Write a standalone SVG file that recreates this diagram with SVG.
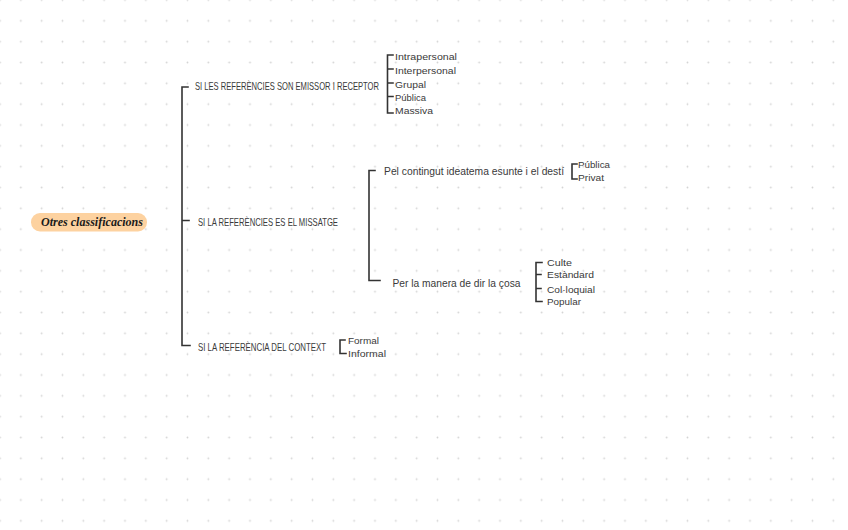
<svg xmlns="http://www.w3.org/2000/svg" width="848" height="530" viewBox="0 0 848 530">
<defs>
<pattern id="dots" patternUnits="userSpaceOnUse" x="-10.4167" y="-10.4167" width="20.8333" height="20.8333">
<circle cx="10.4167" cy="10.4167" r="0.9" fill="#d4d4d4"/>
</pattern>
</defs>
<style>
.t{font-family:"Liberation Sans",Arial,sans-serif;fill:#3a3a3a;font-size:9px;}
.m{font-family:"Liberation Sans",Arial,sans-serif;fill:#3a3a3a;font-size:10px;}
.u{font-family:"Liberation Sans",Arial,sans-serif;fill:#3a3a3a;font-size:11px;}
.ln{fill:none;stroke:#333;stroke-width:1.6;stroke-linecap:square;}
.title{font-family:"Liberation Serif",serif;font-style:italic;font-weight:bold;font-size:13px;fill:#1a1a1a;}
</style>
<rect width="848" height="530" fill="#ffffff"/>
<rect width="848" height="530" fill="url(#dots)"/>

<g id="connectors">
<path class="ln" d="M188 87 H182 V345.5 H190 M182 220.5 H189"/>
<path class="ln" d="M393 55 H387.5 V113 H393 M387.5 69 H393 M387.5 83 H393 M387.5 96.5 H393"/>
<path class="ln" d="M375 170.5 H369 V280.5 H380"/>
<path class="ln" d="M577 164 H572 V179 H577"/>
<path class="ln" d="M542 262.5 H536 V301.5 H542 M536 274.5 H541 M536 288.5 H541"/>
<path class="ln" d="M345 340 H340 V353.5 H346"/>
</g>

<g id="root">
<rect x="31" y="213" width="116" height="18.5" rx="9" fill="#fdd2a0"/>
<text class="title" x="41" y="226" textLength="102" lengthAdjust="spacingAndGlyphs">Otres classificacions</text>
</g>

<g id="n-emissor">
<text class="u" x="195" y="89.5" textLength="184" lengthAdjust="spacingAndGlyphs">SI LES REFERÈNCIES SON EMISSOR I RECEPTOR</text>
</g>
<g id="n-intrapersonal"><text class="t" x="395" y="60" textLength="62" lengthAdjust="spacingAndGlyphs">Intrapersonal</text></g>
<g id="n-interpersonal"><text class="t" x="395" y="74" textLength="61" lengthAdjust="spacingAndGlyphs">Interpersonal</text></g>
<g id="n-grupal"><text class="t" x="395" y="87.5" textLength="31" lengthAdjust="spacingAndGlyphs">Grupal</text></g>
<g id="n-publica1"><text class="t" x="395" y="100.5" textLength="31" lengthAdjust="spacingAndGlyphs">Pública</text></g>
<g id="n-massiva"><text class="t" x="395" y="114" textLength="38" lengthAdjust="spacingAndGlyphs">Massiva</text></g>

<g id="n-missatge">
<text class="u" x="198" y="225.5" textLength="140" lengthAdjust="spacingAndGlyphs">SI LA REFERÈNCIES ES EL MISSATGE</text>
</g>
<g id="n-contingut">
<text class="m" x="384" y="174.5" textLength="180" lengthAdjust="spacingAndGlyphs">Pel contingut ideatema esunte i el destí</text>
</g>
<g id="n-publica2"><text class="t" x="578" y="167.5" textLength="32" lengthAdjust="spacingAndGlyphs">Pública</text></g>
<g id="n-privat"><text class="t" x="578" y="181" textLength="26" lengthAdjust="spacingAndGlyphs">Privat</text></g>

<g id="n-manera">
<text class="m" x="392.5" y="287" textLength="128" lengthAdjust="spacingAndGlyphs">Per la manera de dir la çosa</text>
</g>
<g id="n-culte"><text class="t" x="547" y="265.5" textLength="25" lengthAdjust="spacingAndGlyphs">Culte</text></g>
<g id="n-estandard"><text class="t" x="547" y="277.5" textLength="47" lengthAdjust="spacingAndGlyphs">Estàndard</text></g>
<g id="n-colloquial"><text class="t" x="547" y="292.5" textLength="48" lengthAdjust="spacingAndGlyphs">Col·loquial</text></g>
<g id="n-popular"><text class="t" x="547" y="304.5" textLength="34" lengthAdjust="spacingAndGlyphs">Popular</text></g>

<g id="n-context">
<text class="u" x="198" y="351" textLength="128" lengthAdjust="spacingAndGlyphs">SI LA REFERÈNCIA DEL CONTEXT</text>
</g>
<g id="n-formal"><text class="t" x="348" y="343.5" textLength="31" lengthAdjust="spacingAndGlyphs">Formal</text></g>
<g id="n-informal"><text class="t" x="348" y="357" textLength="38" lengthAdjust="spacingAndGlyphs">Informal</text></g>
</svg>
